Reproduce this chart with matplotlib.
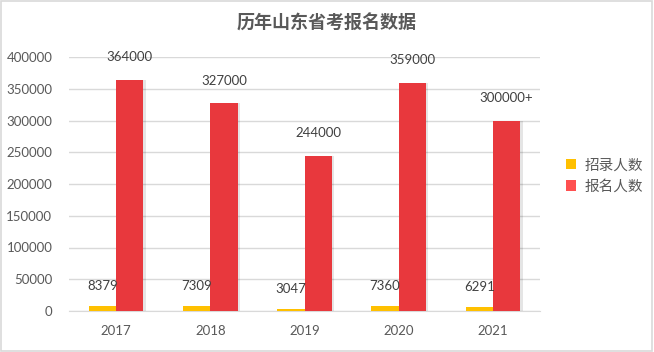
import matplotlib
matplotlib.use("Agg")
import matplotlib.pyplot as plt
import numpy as np
from matplotlib.patches import Rectangle

plt.rcParams['font.family'] = ['Lato', 'Noto Sans CJK SC', 'DejaVu Sans']

years = ["2017", "2018", "2019", "2020", "2021"]
admitted = [8379, 7309, 3047, 7360, 6291]
applicants = [364000, 327000, 244000, 359000, 300000]
applicant_labels = ["364000", "327000", "244000", "359000", "300000+"]
admitted_labels = ["8379", "7309", "3047", "7360", "6291"]
series_names = ["招录人数", "报名人数"]
title = "历年山东省考报名数据"

grey = "#595959"
fig = plt.figure(figsize=(6.54, 3.52), dpi=100)
fig.patch.set_facecolor("white")
fig.add_artist(Rectangle((0.002, 0.003), 0.995, 0.993, transform=fig.transFigure,
                         fill=False, edgecolor="#d9d9d9", linewidth=1.2))

ax = fig.add_axes([0.1055, 0.1165, 0.7202, 0.7215])
x = np.arange(len(years))
w = 0.29

# shadow for red bars
ax.bar(x + w / 2 + 0.025, applicants, w, color="#000000", alpha=0.10, zorder=2, linewidth=0)
ax.bar(x - w / 2, admitted, w, color="#FFC000", zorder=3, label=series_names[0], linewidth=0)
ax.bar(x + w / 2, applicants, w, color="#E8383D", zorder=3, label=series_names[1], linewidth=0)

for xi, v, t in zip(x, applicants, applicant_labels):
    ax.annotate(t, (xi + w / 2, v), xytext=(0, 12), textcoords="offset points",
                ha="center", va="bottom", fontsize=9.5, color="#404040")
for xi, v, t in zip(x, admitted, admitted_labels):
    ax.annotate(t, (xi - w / 2, v), xytext=(0, 10), textcoords="offset points",
                ha="center", va="bottom", fontsize=9.5, color="#404040")

ax.set_xlim(-0.5, len(years) - 0.5)
ax.set_ylim(0, 400000)
ax.set_yticks(np.arange(0, 400001, 50000))
ax.set_yticklabels([str(v) for v in range(0, 400001, 50000)])
ax.set_xticks(x)
ax.set_xticklabels(years)
ax.tick_params(axis="both", length=0, labelsize=9.5, labelcolor=grey)
ax.tick_params(axis="y", pad=12)
ax.tick_params(axis="x", pad=10)
ax.grid(axis="y", color="#d9d9d9", linewidth=1, zorder=0)
ax.set_axisbelow(True)
for s in ["top", "right", "left"]:
    ax.spines[s].set_visible(False)
ax.spines["bottom"].set_color("#d9d9d9")

fig.text(0.5, 0.935, title, ha="center", va="center", fontsize=13, fontweight="bold",
         color=grey, family=["Noto Sans CJK SC", "DejaVu Sans"])

from matplotlib.patches import Patch
handles = [Patch(facecolor="#FFC000", edgecolor="none"), Patch(facecolor="#FF5050", edgecolor="none")]
fig.legend(handles, series_names, loc="center left", bbox_to_anchor=(0.845, 0.5),
           frameon=False, fontsize=10.5, labelcolor=grey, handlelength=0.7, handleheight=0.7,
           handletextpad=0.6, prop={"family": ["Noto Sans CJK SC", "DejaVu Sans"], "size": 10.5})

fig.savefig("out.png", dpi=100)
